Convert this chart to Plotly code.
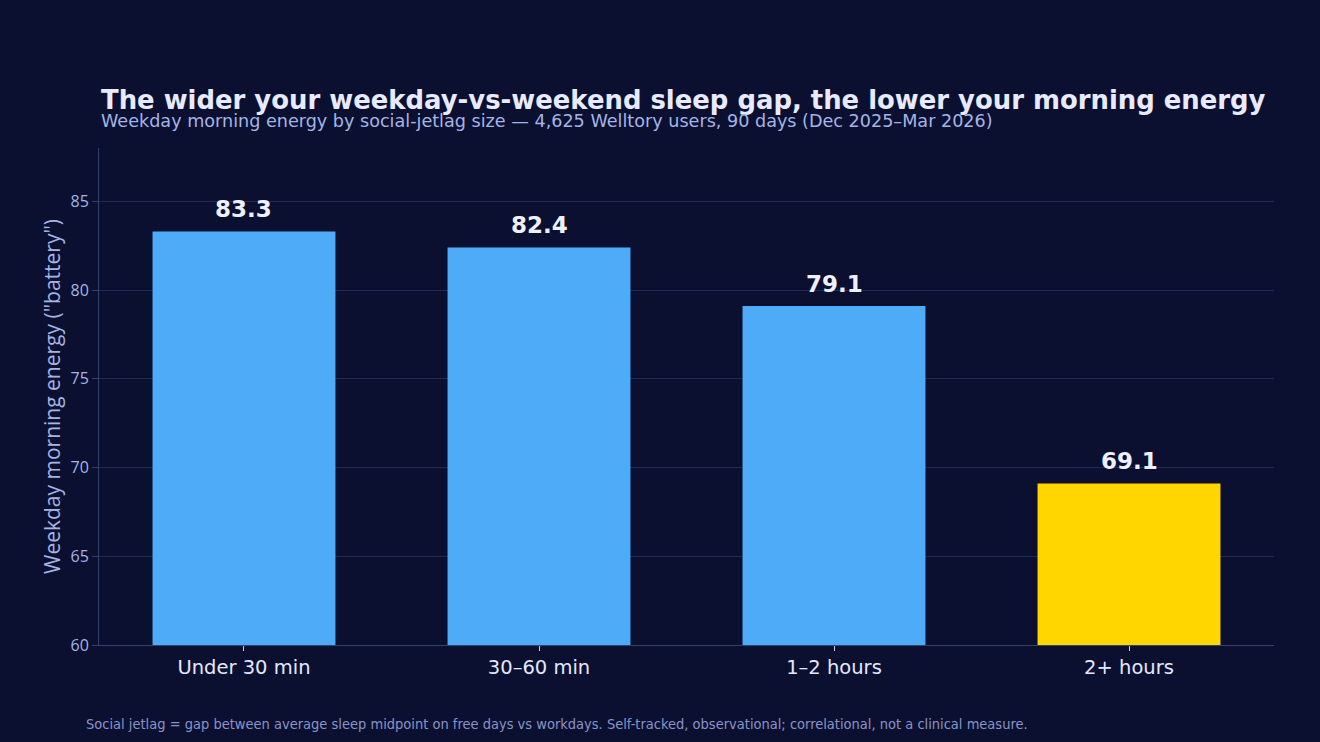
import plotly.graph_objects as go

categories = ["Under 30 min", "30–60 min", "1–2 hours", "2+ hours"]
energy = [83.3, 82.4, 79.1, 69.1]
bar_colors = ["#4dabf7", "#4dabf7", "#4dabf7", "#ffd600"]
y_ticks = [60, 65, 70, 75, 80, 85]

BG = "#0b1030"
GRID = "#1f2a58"
PLOT_L, PLOT_R, PLOT_T, PLOT_B = 99, 1274, 148, 645
PW, PH = PLOT_R - PLOT_L, PLOT_B - PLOT_T

fig = go.Figure()
fig.add_trace(go.Bar(
    x=categories, y=energy,
    marker=dict(color=bar_colors, line=dict(width=0)),
    hoverinfo="skip",
))

annotations = [
    dict(text="<b>The wider your weekday-vs-weekend sleep gap, the lower your morning energy</b>",
         x=0, y=1, xref="paper", yref="paper", xanchor="left", yanchor="bottom",
         yshift=31, showarrow=False,
         font=dict(family="DejaVu Sans", size=25.9, color="#e8ebff")),
    dict(text="Weekday morning energy by social-jetlag size — 4,625 Welltory users, 90 days (Dec 2025–Mar 2026)",
         x=0, y=1, xref="paper", yref="paper", xanchor="left", yanchor="bottom",
         yshift=15, showarrow=False,
         font=dict(family="DejaVu Sans", size=17.6, color="#a5b4e6")),
    dict(text="Social jetlag = gap between average sleep midpoint on free days vs workdays. Self-tracked, observational; correlational, not a clinical measure.",
         x=(84 - PLOT_L) / PW, y=-(724 - PLOT_B) / PH, xref="paper", yref="paper",
         xanchor="left", yanchor="middle", showarrow=False,
         font=dict(family="DejaVu Sans Condensed", size=14.5, color="#8a93c8")),
]
for c, v in zip(categories, energy):
    annotations.append(dict(
        text=f"<b>{v:.1f}</b>", x=c, y=v, xref="x", yref="y",
        xanchor="center", yanchor="bottom", yshift=7, showarrow=False,
        font=dict(family="DejaVu Sans", size=23, color="#eef0ff")))

fig.update_layout(
    width=1320, height=742,
    paper_bgcolor=BG, plot_bgcolor=BG,
    margin=dict(l=PLOT_L, r=1320 - PLOT_R, t=PLOT_T, b=742 - PLOT_B),
    bargap=0.38,
    showlegend=False,
    font=dict(family="DejaVu Sans", color="#eef0ff"),
    annotations=annotations,
)

fig.update_xaxes(
    range=[-0.4915, 3.4915],
    showgrid=False, showline=True, linecolor="#34406e", linewidth=1,
    ticks="outside", ticklen=5, tickcolor="#c8cde8",
    tickfont=dict(family="DejaVu Sans", size=19.5, color="#e4e8ff"),
)
fig.update_yaxes(
    range=[60, 88], tickvals=y_ticks,
    showgrid=True, gridcolor=GRID, gridwidth=1,
    showline=True, linecolor="#34406e", linewidth=1,
    ticks="outside", ticklen=6, tickcolor="#34406e",
    zeroline=False,
    tickfont=dict(family="Open Sans", size=16, color="#a5b4e6"),
    title=dict(text='Weekday morning energy ("battery")',
               font=dict(family="Open Sans", size=21, color="#a5b4e6"), standoff=4),
)

fig.write_html("out.html")
